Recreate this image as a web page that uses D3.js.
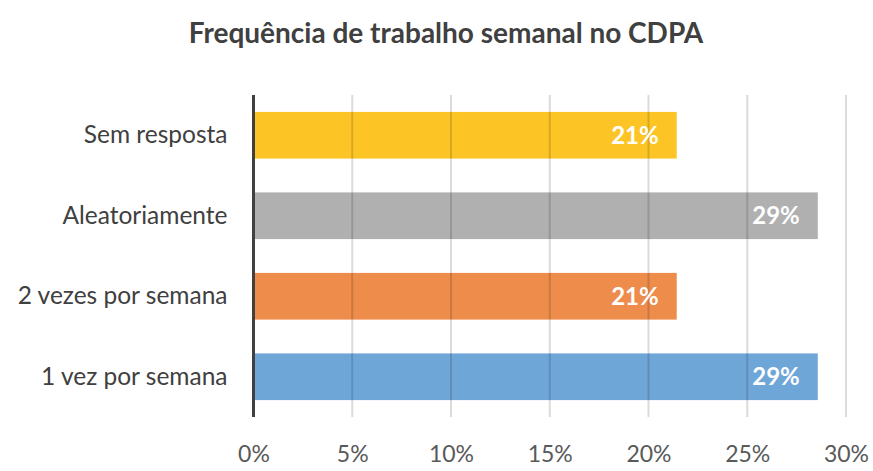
<!doctype html>
<html>
<head>
    <meta charset="UTF-8">
    <title>Frequência de trabalho semanal no CDPA</title>
    <script src="https://d3js.org/d3.v7.min.js"></script>
    <style>
        body { margin: 0; background: #fff; }
        text { font-family: Lato, "Open Sans", sans-serif; }
    </style>
</head>
<body>
    <script>
        // dados (14 respostas)
        var categorias = ["Sem resposta", "Aleatoriamente", "2 vezes por semana", "1 vez por semana"];
        var valores = [3 / 14, 4 / 14, 3 / 14, 4 / 14];
        var rotulos = ["21%", "29%", "21%", "29%"];
        var cores = ["#FCC425", "#B0B0B0", "#EE8C4C", "#6FA6D8"];
        var ticks = [0, 0.05, 0.10, 0.15, 0.20, 0.25, 0.30];
        var titulo = "Frequência de trabalho semanal no CDPA";

        var w = 873, h = 471;
        var pLeft = 253.5, pRight = 846, pTop = 95, pBottom = 417;

        var svg = d3.select("body").append("svg")
            .attr("width", w)
            .attr("height", h);

        var x = d3.scaleLinear().domain([0, 0.30]).range([pLeft, pRight]);
        var y = d3.scaleBand().domain(categorias).range([pTop, pBottom]).paddingInner(0.42).paddingOuter(0.21);

        svg.append("text")
            .attr("x", 446)
            .attr("y", 43)
            .attr("text-anchor", "middle")
            .attr("font-size", 28)
            .attr("font-weight", "bold")
            .attr("fill", "#404040")
            .text(titulo);

        // barras
        svg.selectAll("rect.bar")
            .data(valores)
            .enter().append("rect")
            .attr("class", "bar")
            .attr("x", x(0))
            .attr("y", function (d, i) { return y(categorias[i]); })
            .attr("width", function (d) { return x(d) - x(0); })
            .attr("height", y.bandwidth())
            .attr("fill", function (d, i) { return cores[i]; });

        // grade por cima (aparece através das barras)
        svg.selectAll("line.grid")
            .data(ticks.slice(1))
            .enter().append("line")
            .attr("class", "grid")
            .attr("x1", function (d) { return x(d); })
            .attr("x2", function (d) { return x(d); })
            .attr("y1", pTop)
            .attr("y2", pBottom)
            .attr("stroke", "#000")
            .attr("stroke-opacity", 0.14)
            .attr("stroke-width", 2);

        // eixo vertical
        svg.append("line")
            .attr("x1", x(0)).attr("x2", x(0))
            .attr("y1", pTop).attr("y2", pBottom)
            .attr("stroke", "#404040")
            .attr("stroke-width", 3);

        // eixo x
        var xAxis = d3.axisBottom(x)
            .tickValues(ticks)
            .tickFormat(d3.format(".0%"))
            .tickSize(0)
            .tickPadding(0);
        var gx = svg.append("g")
            .attr("transform", "translate(0," + 446 + ")")
            .call(xAxis);
        gx.select(".domain").remove();
        gx.selectAll("text")
            .attr("font-size", 23)
            .attr("fill", "#595959")
            .attr("font-family", "Lato, sans-serif");

        // eixo y
        var yAxis = d3.axisLeft(y).tickSize(0).tickPadding(26);
        var gy = svg.append("g")
            .attr("transform", "translate(" + pLeft + ",0)")
            .call(yAxis);
        gy.select(".domain").remove();
        gy.selectAll("text")
            .attr("font-size", 24.5)
            .attr("fill", "#404040")
            .attr("font-family", "Lato, sans-serif");

        // rótulos de valor
        svg.selectAll("text.valor")
            .data(valores)
            .enter().append("text")
            .attr("class", "valor")
            .attr("x", function (d) { return x(d) - 18; })
            .attr("y", function (d, i) { return y(categorias[i]) + y.bandwidth() / 2; })
            .attr("dy", "0.36em")
            .attr("text-anchor", "end")
            .attr("font-size", 24)
            .attr("font-weight", "bold")
            .attr("fill", "#fff")
            .text(function (d, i) { return rotulos[i]; });
    </script>
</body>
</html>
